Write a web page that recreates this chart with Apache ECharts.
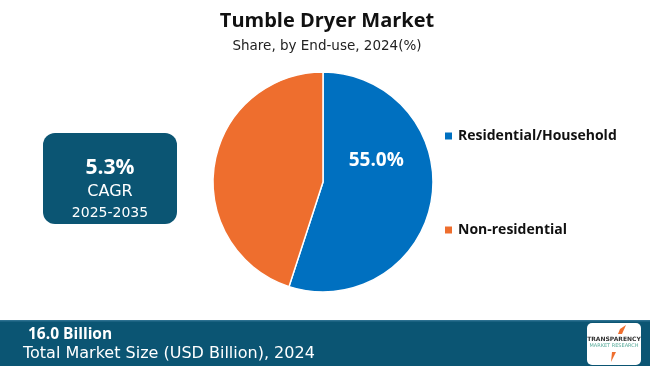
<!DOCTYPE html>
<html><head><meta charset="utf-8">
<script src="https://cdn.jsdelivr.net/npm/echarts@6/dist/echarts.min.js"></script>
<style>html,body{margin:0;padding:0;background:#fff}#c{width:650px;height:366px}</style>
</head><body><div id="c"></div>
<script>
const categories = ['Residential/Household', 'Non-residential'];
const shares = [55.0, 45.0];
const colors = ['#0070C0', '#EE6E2E'];
const cagr = '5.3%';
const cagrPeriod = '2025-2035';
const marketSize = '16.0 Billion';
const marketLabel = 'Total Market Size (USD Billion), 2024';

const chart = echarts.init(document.getElementById('c'));
const teal = '#0B5573';
chart.setOption({
  animation: false,
  title: {
    text: 'Tumble Dryer Market',
    subtext: 'Share, by End-use, 2024(%)',
    left: 322, textAlign: 'center', top: 6, itemGap: 8,
    textStyle: {fontFamily: 'Open Sans', fontWeight: 'bold', fontSize: 20, color: '#111'},
    subtextStyle: {fontFamily: 'DejaVu Sans', fontSize: 13.5, color: '#222'}
  },
  legend: {
    orient: 'vertical', left: 443, top: 129, itemGap: 80, padding: 0,
    itemWidth: 9, itemHeight: 9, icon: 'rect',
    textStyle: {fontFamily: 'Open Sans', fontWeight: 'bold', fontSize: 14, color: '#111'},
    data: categories
  },
  series: [{
    type: 'pie', center: [323, 182], radius: 110, startAngle: 90, clockwise: true,
    itemStyle: {borderColor: '#fff', borderWidth: 1.5},
    label: {show: false},
    emphasis: {disabled: true},
    labelLayout: function (p) { return p.dataIndex === 0 ? {dx: -4, dy: -30} : {}; },
    data: categories.map((n, i) => ({
      name: n, value: shares[i], itemStyle: {color: colors[i]},
      label: i === 0 ? {show: true, position: 'inside', formatter: p => p.value.toFixed(1) + '%',
        color: '#fff', fontFamily: 'Open Sans', fontWeight: 'bold', fontSize: 19} : {show: false}
    }))
  }],
  graphic: [
    {type: 'rect', shape: {x: 43, y: 133, width: 134, height: 91, r: 12}, style: {fill: teal}},
    {type: 'text', x: 110, y: 168, style: {text: cagr, fill: '#fff', font: 'bold 21px "Open Sans"', align: 'center', verticalAlign: 'middle'}},
    {type: 'text', x: 110, y: 192, style: {text: 'CAGR', fill: '#fff', font: '16px "DejaVu Sans"', align: 'center', verticalAlign: 'middle'}},
    {type: 'text', x: 110, y: 213, style: {text: cagrPeriod, fill: '#fff', font: '14px "DejaVu Sans"', align: 'center', verticalAlign: 'middle'}},
    {type: 'rect', shape: {x: 0, y: 321, width: 650, height: 45}, style: {fill: teal}},
    {type: 'rect', shape: {x: 0, y: 320, width: 650, height: 1.5}, style: {fill: '#2c7090'}},
    {type: 'text', x: 28, y: 335, style: {text: marketSize, fill: '#fff', font: 'bold 15.5px "Open Sans"', verticalAlign: 'middle'}},
    {type: 'text', x: 23, y: 354, style: {text: marketLabel, fill: '#fff', font: '16px "DejaVu Sans"', verticalAlign: 'middle'}},
    {type: 'rect', shape: {x: 587, y: 323, width: 54, height: 42, r: 5}, style: {fill: '#fff'}},
    {type: 'polygon', shape: {points: [[612,352],[616,352],[611,362]]}, style: {fill: '#EE6E2E'}},
    {type: 'polygon', shape: {points: [[618,334],[622,334],[626,325],[620,329]]}, style: {fill: '#EE6E2E'}},
    {type: 'text', x: 614, y: 339, style: {text: 'TRANSPARENCY', fill: '#333', font: 'bold 6px "DejaVu Sans"', align: 'center', verticalAlign: 'middle'}},
    {type: 'text', x: 614, y: 346, style: {text: 'MARKET RESEARCH', fill: '#5a9', font: '5px "DejaVu Sans"', align: 'center', verticalAlign: 'middle'}}
  ]
});
</script></body></html>
